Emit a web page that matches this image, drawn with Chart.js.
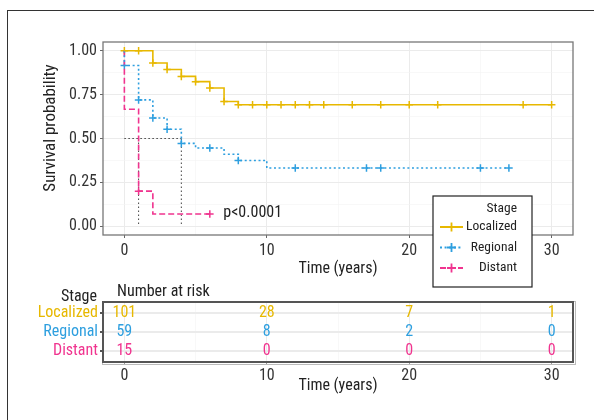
<!DOCTYPE html>
<html>
<head>
<meta charset="utf-8">
<script src="https://cdn.jsdelivr.net/npm/chart.js@4.4.1/dist/chart.umd.min.js"></script>
<style>
  body { margin: 0; background: #fff; }
  #wrap { position: relative; width: 594px; height: 420px; overflow: hidden; }
  #frame { position: absolute; left: 7px; top: 10px; width: 620px; height: 440px;
           border-top: 1.5px solid #333; border-left: 1.5px solid #333; }
  #km { position: absolute; left: 0; top: 0; }
  #risk { position: absolute; left: 0; top: 280px; }
</style>
</head>
<body>
<div id="wrap">
  <div id="frame"></div>
  <canvas id="km" width="594" height="292"></canvas>
  <canvas id="risk" width="594" height="140"></canvas>
</div>
<script>
  const stages = ['Localized', 'Regional', 'Distant'];
  const colors = ['#E7B800', '#2E9FDF', '#F0348F'];

  // Kaplan-Meier steps (time in years, survival)
  const localizedTime = [0, 2, 3, 4, 5, 6, 7, 8, 30];
  const localizedSurv = [1, 0.93, 0.893, 0.854, 0.824, 0.788, 0.711, 0.692, 0.692];
  const regionalTime = [0, 0, 1, 2, 3, 4, 5, 7, 8, 10, 27];
  const regionalSurv = [1, 0.916, 0.72, 0.617, 0.553, 0.472, 0.446, 0.41, 0.375, 0.332, 0.332];
  const distantTime = [0, 0, 1, 2, 6];
  const distantSurv = [1, 0.667, 0.2, 0.07, 0.07];

  // censoring times
  const localizedCensor = [0, 1, 2, 3, 4, 5, 6, 7, 8, 9, 10, 11, 12, 13, 14, 16, 18, 20, 22, 28, 30];
  const regionalCensor = [0, 1, 2, 3, 4, 6, 8, 12, 17, 18, 25, 27];
  const distantCensor = [1, 6];

  const medianTimes = [1, 4];
  const pLabel = 'p<0.0001';

  // number at risk table
  const riskTimes = [0, 10, 20, 30];
  const localizedRisk = [101, 28, 7, 1];
  const regionalRisk = [59, 8, 2, 0];
  const distantRisk = [15, 0, 0, 0];

  const xTicks = [0, 5, 10, 15, 20, 25, 30];
  const yTicks = [0, 0.125, 0.25, 0.375, 0.5, 0.625, 0.75, 0.875, 1];

  const FONT = '"Roboto Condensed", "DejaVu Sans Condensed", sans-serif';
  Chart.defaults.font.family = FONT;
  Chart.defaults.font.size = 16;
  Chart.defaults.color = '#333';

  const curves = [
    { t: localizedTime, s: localizedSurv, c: localizedCensor, dash: [] },
    { t: regionalTime, s: regionalSurv, c: regionalCensor, dash: [2, 2.6] },
    { t: distantTime, s: distantSurv, c: distantCensor, dash: [6, 3] }
  ];

  function survAt(curve, time) {
    let v = curve.s[0];
    curve.t.forEach((tt, i) => { if (tt <= time) v = curve.s[i]; });
    return v;
  }

  const datasets = [];
  curves.forEach((cv, i) => {
    datasets.push({
      label: stages[i],
      data: cv.t.map((t, j) => ({ x: t, y: cv.s[j] })),
      showLine: true,
      stepped: 'before',
      borderColor: colors[i],
      borderWidth: 1.6,
      borderDash: cv.dash,
      pointRadius: 0,
      fill: false
    });
  });
  curves.forEach((cv, i) => {
    datasets.push({
      label: stages[i] + ' censor',
      data: cv.c.map(t => ({ x: t, y: survAt(cv, t) })),
      showLine: false,
      pointStyle: 'cross',
      pointRadius: 3.8,
      borderColor: colors[i],
      backgroundColor: colors[i],
      pointBorderWidth: 1.5
    });
  });
  // median survival guide lines
  const medData = [{ x: 0, y: 0.5 }, { x: Math.max(...medianTimes), y: 0.5 }];
  medianTimes.forEach(m => { medData.push({ x: NaN, y: NaN }, { x: m, y: 0.5 }, { x: m, y: 0 }); });
  datasets.push({
    label: 'median',
    data: medData,
    showLine: true,
    spanGaps: false,
    borderColor: '#444',
    borderWidth: 1,
    borderDash: [1.5, 2.5],
    pointRadius: 0
  });

  const kmPlugin = {
    id: 'kmExtras',
    beforeDatasetsDraw(chart) {
      const { ctx, chartArea: a } = chart;
      ctx.save();
      ctx.strokeStyle = '#777';
      ctx.lineWidth = 1.3;
      ctx.strokeRect(a.left, a.top, a.right - a.left, a.bottom - a.top);
      ctx.restore();
    },
    afterDraw(chart) {
      const { ctx, scales } = chart;
      ctx.save();
      // y axis title
      ctx.font = '17px ' + FONT;
      ctx.fillStyle = '#222';
      ctx.textBaseline = 'middle';
      ctx.textAlign = 'center';
      ctx.translate(50.5, 128);
      ctx.rotate(-Math.PI / 2);
      ctx.fillText('Survival probability', 0, 0);
      ctx.setTransform(1, 0, 0, 1, 0, 0);

      // p value
      ctx.font = '16px ' + FONT;
      ctx.textAlign = 'left';
      ctx.fillText(pLabel, scales.x.getPixelForValue(6.95), scales.y.getPixelForValue(0.075));

      // legend
      const L = 433, T = 196, W = 99, H = 91;
      ctx.fillStyle = '#fff';
      ctx.fillRect(L, T, W, H);
      ctx.strokeStyle = '#222';
      ctx.lineWidth = 1.2;
      ctx.strokeRect(L, T, W, H);
      ctx.font = '13.5px ' + FONT;
      ctx.fillStyle = '#222';
      ctx.textAlign = 'right';
      ctx.fillText('Stage', L + 84, T + 13);
      stages.forEach((name, i) => {
        const y = T + 31 + i * 20.5;
        ctx.strokeStyle = colors[i];
        ctx.lineWidth = 2;
        ctx.setLineDash(curves[i].dash);
        ctx.beginPath();
        ctx.moveTo(L + 7, y);
        ctx.lineTo(L + 30, y);
        ctx.stroke();
        ctx.setLineDash([]);
        ctx.lineWidth = 1.8;
        ctx.beginPath();
        ctx.moveTo(L + 18.5, y - 4.5); ctx.lineTo(L + 18.5, y + 4.5);
        ctx.moveTo(L + 14, y); ctx.lineTo(L + 23, y);
        ctx.stroke();
        ctx.fillStyle = '#222';
        ctx.fillText(name, L + 84, y);
      });
      ctx.restore();
    }
  };

  new Chart(document.getElementById('km'), {
    type: 'scatter',
    data: { datasets },
    options: {
      responsive: false,
      animation: false,
      layout: { padding: { left: 0, top: 42, right: 21, bottom: 0 } },
      plugins: { legend: { display: false }, tooltip: { enabled: false } },
      scales: {
        x: {
          type: 'linear', min: -1.5, max: 31.5,
          afterBuildTicks: s => { s.ticks = xTicks.map(v => ({ value: v })); },
          afterFit: s => { s.height = 57; },
          ticks: { padding: 3, maxRotation: 0, autoSkip: false,
                   callback: v => (v % 10 === 0 ? String(v) : '') },
          grid: {
            color: c => (c.tick && c.tick.value % 10 === 0 ? '#EBEBEB' : '#F4F4F4'),
            lineWidth: c => (c.tick && c.tick.value % 10 === 0 ? 1 : 0.6),
            tickColor: c => (c.tick && c.tick.value % 10 === 0 ? '#666' : 'rgba(0,0,0,0)'),
            tickLength: 3
          },
          border: { display: false },
          title: { display: true, text: 'Time (years)', color: '#222', padding: { bottom: 13 } }
        },
        y: {
          type: 'linear', min: -0.05, max: 1.05,
          afterBuildTicks: s => { s.ticks = yTicks.map(v => ({ value: v })); },
          afterFit: s => { s.width = 103; },
          ticks: { padding: 3, autoSkip: false,
                   callback: v => (v % 0.25 === 0 ? v.toFixed(2) : '') },
          grid: {
            color: c => (c.tick && c.tick.value % 0.25 === 0 ? '#EBEBEB' : '#F4F4F4'),
            lineWidth: c => (c.tick && c.tick.value % 0.25 === 0 ? 1 : 0.6),
            tickColor: c => (c.tick && c.tick.value % 0.25 === 0 ? '#666' : 'rgba(0,0,0,0)'),
            tickLength: 3
          },
          border: { display: false }
        }
      }
    },
    plugins: [kmPlugin]
  });

  // risk table
  const riskRows = [localizedRisk, regionalRisk, distantRisk];
  const riskSets = riskRows.map((row, i) => ({
    label: stages[i],
    data: row.map((n, j) => ({ x: riskTimes[j], y: i + 1, n })),
    pointRadius: 0,
    color: colors[i]
  }));

  const riskPlugin = {
    id: 'riskText',
    beforeDatasetsDraw(chart) {
      const { ctx, chartArea: a } = chart;
      ctx.save();
      ctx.strokeStyle = '#bbb';
      ctx.lineWidth = 1;
      ctx.strokeRect(a.left - 0.5, a.top - 0.5, a.right - a.left + 3, a.bottom - a.top + 3);
      ctx.strokeStyle = '#555';
      ctx.lineWidth = 2;
      ctx.strokeRect(a.left, a.top, a.right - a.left, a.bottom - a.top);
      ctx.restore();
    },
    afterDatasetsDraw(chart) {
      const { ctx, scales, chartArea: a } = chart;
      ctx.save();
      ctx.font = '16px ' + FONT;
      ctx.textBaseline = 'middle';
      ctx.textAlign = 'center';
      chart.data.datasets.forEach(ds => {
        ctx.fillStyle = ds.color;
        ds.data.forEach(p => {
          ctx.fillText(String(p.n), scales.x.getPixelForValue(p.x), scales.y.getPixelForValue(p.y));
        });
      });
      ctx.fillStyle = '#222';
      ctx.textAlign = 'left';
      ctx.fillText('Number at risk', a.left + 14, a.top - 10);
      ctx.textAlign = 'right';
      ctx.fillText('Stage', a.left - 6, a.top - 5);
      ctx.restore();
    }
  };

  new Chart(document.getElementById('risk'), {
    type: 'scatter',
    data: { datasets: riskSets },
    options: {
      responsive: false,
      animation: false,
      layout: { padding: { left: 0, top: 22, right: 21, bottom: 0 } },
      plugins: { legend: { display: false }, tooltip: { enabled: false } },
      scales: {
        x: {
          type: 'linear', min: -1.5, max: 31.5,
          afterBuildTicks: s => { s.ticks = xTicks.map(v => ({ value: v })); },
          afterFit: s => { s.height = 58; },
          ticks: { padding: 1, maxRotation: 0, autoSkip: false,
                   callback: v => (v % 10 === 0 ? String(v) : '') },
          grid: {
            color: c => (c.tick && c.tick.value % 10 === 0 ? '#EBEBEB' : '#F4F4F4'),
            lineWidth: c => (c.tick && c.tick.value % 10 === 0 ? 1 : 0.6),
            tickColor: c => (c.tick && c.tick.value % 10 === 0 ? '#999' : 'rgba(0,0,0,0)'),
            tickLength: 3
          },
          border: { display: false },
          title: { display: true, text: 'Time (years)', color: '#222', padding: { bottom: 24 } }
        },
        y: {
          type: 'linear', min: 0.4, max: 3.6, reverse: true,
          afterBuildTicks: s => { s.ticks = stages.map((n, i) => ({ value: i + 1 })); },
          afterFit: s => { s.width = 103; },
          ticks: { padding: 2, autoSkip: false,
                   color: c => colors[c.index],
                   callback: v => stages[v - 1] },
          grid: { color: '#EBEBEB', lineWidth: 2, tickColor: '#555', tickLength: 3 },
          border: { display: false }
        }
      }
    },
    plugins: [riskPlugin]
  });
</script>
</body>
</html>
